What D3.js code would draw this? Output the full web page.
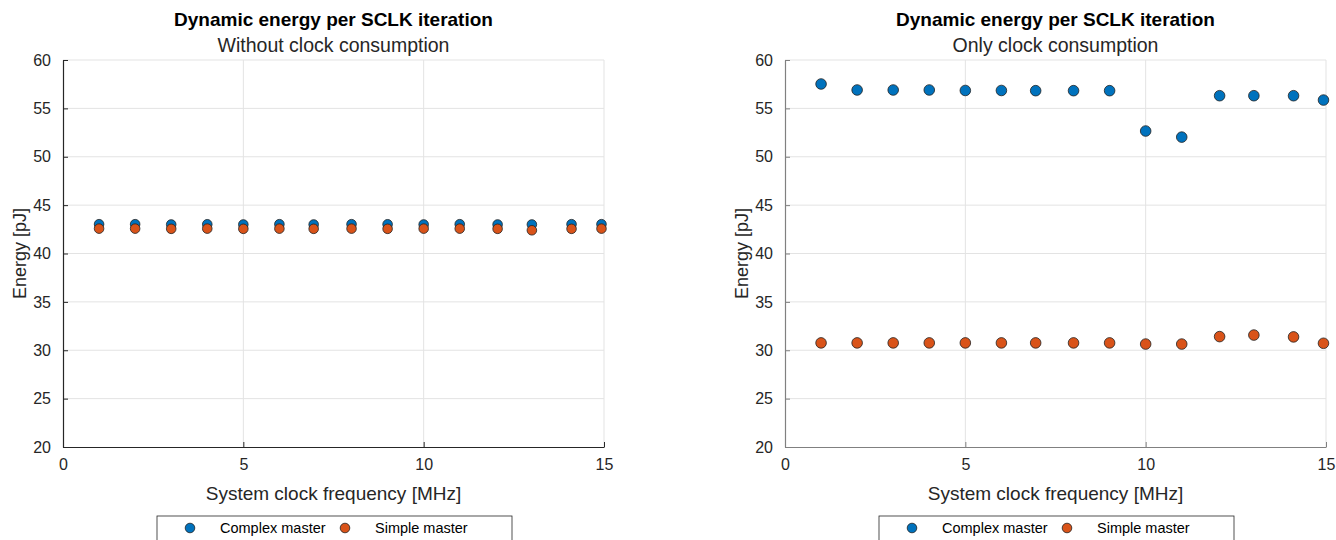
<!DOCTYPE html>
<html>
<head>
<meta charset="utf-8">
<script src="https://cdn.jsdelivr.net/npm/d3@7"></script>
<style>
  html, body { margin: 0; padding: 0; background: #fff; }
  svg text { font-family: "Liberation Sans", Arial, Helvetica, sans-serif; }
</style>
</head>
<body>
<svg id="chart" width="1336" height="540"></svg>
<script>
// ---- data ----
const freqs = [1, 2, 3, 4, 5, 6, 6.95, 8, 9, 10, 11, 12.05, 13, 14.1, 14.93];
const leftComplex = [43.03, 43.03, 43.0, 43.02, 43.0, 43.03, 43.0, 43.03, 43.02, 43.0, 43.03, 43.0, 43.0, 43.03, 43.03];
const leftSimple  = [42.57, 42.57, 42.55, 42.57, 42.55, 42.57, 42.55, 42.57, 42.55, 42.57, 42.57, 42.55, 42.4, 42.55, 42.57];
const rightComplex = [57.52, 56.9, 56.9, 56.9, 56.85, 56.85, 56.83, 56.83, 56.83, 52.66, 52.03, 56.31, 56.31, 56.31, 55.86];
const rightSimple  = [30.76, 30.76, 30.76, 30.76, 30.76, 30.76, 30.76, 30.76, 30.76, 30.64, 30.64, 31.41, 31.57, 31.38, 30.72];
const xTicks = [0, 5, 10, 15];
const yTicks = [20, 25, 30, 35, 40, 45, 50, 55, 60];
const seriesNames = ["Complex master", "Simple master"];
const seriesColors = ["#0072BD", "#D95319"];
const titleText = "Dynamic energy per SCLK iteration";
const subtitles = ["Without clock consumption", "Only clock consumption"];
const xLabel = "System clock frequency [MHz]";
const yLabel = "Energy [pJ]";

const svg = d3.select("#chart");

const panels = [
  { x0: 63, x1: 604, axisColor: "#262626", sub: subtitles[0], data: [leftComplex, leftSimple], r: 4.8 },
  { x0: 785, x1: 1326, axisColor: "#808080", sub: subtitles[1], data: [rightComplex, rightSimple], r: 5.3 }
];
const yTop = 60, yBot = 447;

panels.forEach(p => {
  const g = svg.append("g");
  const x = d3.scaleLinear().domain([0, 15]).range([p.x0, p.x1]);
  const y = d3.scaleLinear().domain([20, 60]).range([yBot, yTop]);

  // grid
  g.append("g").selectAll("line").data(xTicks.filter(t => t > 0)).join("line")
    .attr("x1", d => x(d)).attr("x2", d => x(d)).attr("y1", yTop).attr("y2", yBot)
    .attr("stroke", "#e3e3e3").attr("stroke-width", 1);
  g.append("g").selectAll("line").data(yTicks.filter(t => t > 20)).join("line")
    .attr("x1", p.x0).attr("x2", p.x1).attr("y1", d => y(d)).attr("y2", d => y(d))
    .attr("stroke", "#e3e3e3").attr("stroke-width", 1);

  // axes
  const xa = g.append("g").attr("transform", `translate(0,${yBot})`)
    .call(d3.axisBottom(x).tickValues(xTicks).tickSizeInner(-5).tickSizeOuter(0).tickPadding(12));
  const ya = g.append("g").attr("transform", `translate(${p.x0},0)`)
    .call(d3.axisLeft(y).tickValues(yTicks).tickSizeInner(-5).tickSizeOuter(0).tickPadding(12));
  [xa, ya].forEach(a => {
    a.select(".domain").attr("stroke", p.axisColor).attr("stroke-width", 1.2);
    a.selectAll(".tick line").attr("stroke", p.axisColor);
    a.selectAll(".tick text").attr("fill", "#262626").style("font-size", "16px")
      .style("font-family", "'Liberation Sans', Arial, sans-serif");
  });

  // labels
  const cx = (p.x0 + p.x1) / 2;
  g.append("text").attr("x", cx).attr("y", 26).attr("text-anchor", "middle")
    .style("font-size", "19px").style("font-weight", "bold").attr("fill", "#000").text(titleText);
  g.append("text").attr("x", cx).attr("y", 52).attr("text-anchor", "middle")
    .style("font-size", "19.5px").attr("fill", "#262626").text(p.sub);
  g.append("text").attr("x", cx).attr("y", 500).attr("text-anchor", "middle")
    .style("font-size", "19px").attr("fill", "#262626").text(xLabel);
  g.append("text").attr("transform", `translate(${p.x0 - 37},${(yTop + yBot) / 2}) rotate(-90)`)
    .attr("text-anchor", "middle").style("font-size", "18px").attr("fill", "#262626").text(yLabel);

  // points
  p.data.forEach((vals, si) => {
    g.append("g").selectAll("circle").data(freqs.map((f, i) => [f, vals[i]])).join("circle")
      .attr("cx", d => x(d[0])).attr("cy", d => y(d[1])).attr("r", p.r)
      .attr("fill", seriesColors[si]).attr("stroke", "#222").attr("stroke-width", 0.8);
  });

  // legend
  const lx = p.x0 + 94, ly = 516, lw = 355;
  const lg = g.append("g");
  lg.append("rect").attr("x", lx).attr("y", ly).attr("width", lw).attr("height", 40)
    .attr("fill", "#fff").attr("stroke", "#262626").attr("stroke-width", 0.8);
  const itemX = [lx + 33, lx + 188];
  seriesNames.forEach((n, i) => {
    lg.append("circle").attr("cx", itemX[i]).attr("cy", ly + 12).attr("r", 4.8)
      .attr("fill", seriesColors[i]).attr("stroke", "#222").attr("stroke-width", 0.8);
    lg.append("text").attr("x", itemX[i] + 30).attr("y", ly + 17)
      .style("font-size", "14.5px").attr("fill", "#000").text(n);
  });
});
</script>
</body>
</html>
